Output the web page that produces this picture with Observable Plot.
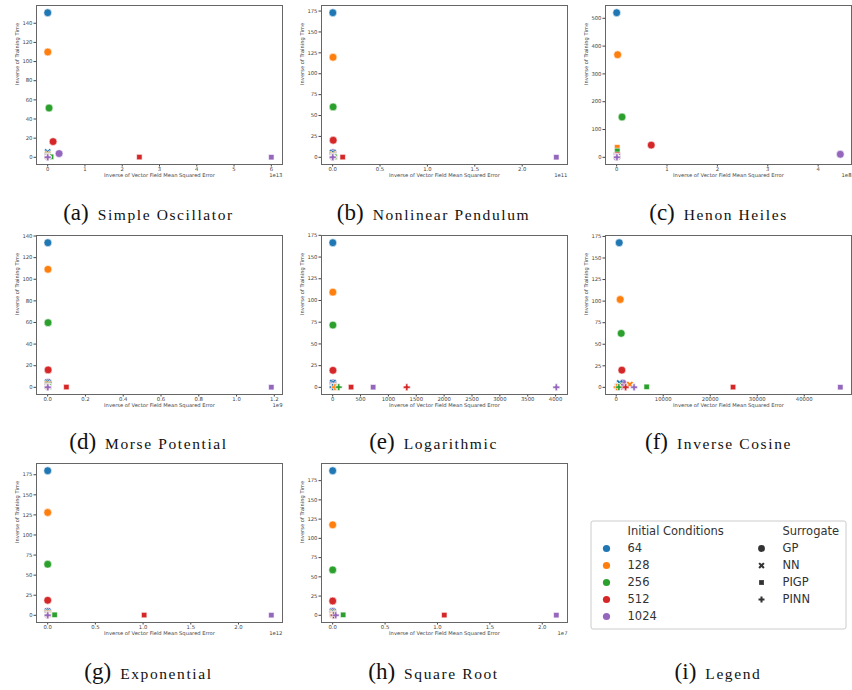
<!DOCTYPE html>
<html>
<head>
<meta charset="utf-8">
<script src="https://cdn.jsdelivr.net/npm/d3@7"></script>
<script src="https://cdn.jsdelivr.net/npm/@observablehq/plot@0.6"></script>
<style>
  body { margin: 0; background: #fff; }
  #fig { position: relative; width: 852px; height: 690px; overflow: hidden; background: #fff; }
  .cell { position: absolute; }
  .cell svg { overflow: visible; max-width: none; }
  .box { position: absolute; box-sizing: border-box; border: 1px solid #666; pointer-events: none; }
  .cap {
    position: absolute; width: 290px; text-align: center; white-space: nowrap;
    font-family: "Liberation Serif", serif; font-size: 15.5px; letter-spacing: 1.6px;
    color: #111; line-height: 26px;
  }
  .cap .tag { font-size: 23px; letter-spacing: 0; margin-right: 9px; }
</style>
</head>
<body>
<div id="fig"></div>
<script>
// Shared categories
const initialConditions = [64, 128, 256, 512, 1024];
const surrogates = ["GP", "NN", "PIGP", "PINN"];
const icColors = ["#1f77b4", "#ff7f0e", "#2ca02c", "#d62728", "#9467bd"];

// In every X / Y table below, rows follow `surrogates` and columns follow `initialConditions`.
const simpleOscillatorX = [
  [1.0e10, 3.0e10, 3.7e11, 1.45e12, 3.06e12],
  [2e9, 3e9, 4e9, 5e9, 6e9],
  [3e10, 5e10, 9e11, 2.46e13, 6.0e13],
  [1e9, 1e9, 2e9, 2e9, 3e9]
];
const simpleOscillatorY = [
  [151, 110, 51.5, 16.4, 3.9],
  [5.5, 3.4, 2.2, 1.3, 0.9],
  [1.2, 0.8, 0.5, 0.25, 0.12],
  [0.6, 0.3, 0.15, 0.08, 0.04]
];

const pendulumX = [
  [2e8, 4e8, 5e8, 6e8, 3e8],
  [1e8, 1.5e8, 2e8, 2.5e8, 3e8],
  [5e8, 8e8, 2e9, 1.06e10, 2.36e11],
  [5e7, 6e7, 7e7, 8e7, 1e8]
];
const pendulumY = [
  [173, 119.7, 60.3, 20.4, 5.5],
  [5.5, 3.4, 2.2, 1.3, 0.9],
  [1.2, 0.8, 0.5, 0.25, 0.12],
  [0.6, 0.3, 0.15, 0.08, 0.04]
];

const henonHeilesX = [
  [1e5, 2e6, 1.07e7, 6.87e7, 4.44e8],
  [2e5, 3e5, 4e5, 5e5, 6e5],
  [1e6, 1.2e6, 1.4e6, 1.6e6, 1.8e6],
  [1e5, 2e5, 3e5, 4e5, 5e5]
];
const henonHeilesY = [
  [520, 369, 145, 44, 11],
  [9, 6, 4, 2.5, 1.5],
  [34, 36, 23, 9, 4],
  [1, 0.7, 0.5, 0.3, 0.2]
];

const morseX = [
  [1e6, 1.5e6, 2e6, 2.5e6, 3e6],
  [5e5, 6e5, 7e5, 8e5, 9e5],
  [2e6, 3e6, 5e6, 9.9e7, 1.184e9],
  [1e5, 2e5, 3e5, 4e5, 5e5]
];
const morseY = [
  [133.8, 109.2, 59.8, 16.1, 4.5],
  [4.7, 3.2, 2.2, 1.3, 0.9],
  [1.0, 0.7, 0.5, 0.25, 0.12],
  [0.5, 0.3, 0.15, 0.08, 0.04]
];

const logarithmicX = [
  [2, 3, 4, 5, 6],
  [3, 30, 20, 10, 8],
  [10, 15, 25, 330, 726],
  [0, 40, 108, 1329, 4013]
];
const logarithmicY = [
  [166.5, 109.6, 71.7, 19.6, 5],
  [5.3, 0.5, 1.5, 1.0, 2.5],
  [1.5, 1.0, 0.6, 0.3, 0.2],
  [0.3, 0.25, 0.2, 0.15, 0.1]
];

const inverseCosineX = [
  [636, 847, 1059, 1200, 1400],
  [760, 2900, 500, 1000, 1600],
  [200, 300, 6480, 24850, 47670],
  [300, 100, 550, 2000, 3800]
];
const inverseCosineY = [
  [167.7, 101.9, 62.6, 20, 5],
  [5, 3.2, 1.5, 1.0, 0.8],
  [1.0, 0.8, 0.6, 0.3, 0.2],
  [0.3, 0.25, 0.2, 0.15, 0.1]
];

const exponentialX = [
  [1e8, 2e8, 3e8, 4e8, 5e8],
  [5e7, 6e7, 7e7, 8e7, 9e7],
  [1e9, 2e9, 7.3e10, 1.011e12, 2.344e12],
  [1e7, 2e7, 3e7, 4e7, 5e7]
];
const exponentialY = [
  [180, 128, 63.6, 18.7, 5],
  [5, 3.2, 2.2, 1.3, 0.9],
  [1.0, 0.8, 0.6, 0.3, 0.2],
  [0.5, 0.3, 0.15, 0.08, 0.04]
];

const squareRootX = [
  [1e3, 2e3, 3e3, 4e3, 5e3],
  [5e3, 6e3, 7e3, 8e3, 9e3],
  [1e4, 2e4, 1.0e6, 1.065e7, 2.134e7],
  [1e4, 3e4, 5e4, 1e5, 2.9e5]
];
const squareRootY = [
  [187.9, 117.6, 59, 18.6, 5],
  [5, 3.2, 2.2, 1.3, 0.9],
  [1.0, 0.8, 0.6, 0.3, 0.2],
  [0.5, 0.3, 0.15, 0.08, 0.04]
];

// Tick labels (x ticks are in units of the axis multiplier 10^exp)
const yTicks140 = [0, 20, 40, 60, 80, 100, 120, 140];
const yTicks175 = [0, 25, 50, 75, 100, 125, 150, 175];
const yTicks500 = [0, 100, 200, 300, 400, 500];
const xTicksUnit6 = [0, 1, 2, 3, 4, 5, 6];
const xTicksUnit4 = [0, 1, 2, 3, 4];
const xTicksHalf2 = [0, 0.5, 1.0, 1.5, 2.0];
const xTicksFifth12 = [0, 0.2, 0.4, 0.6, 0.8, 1.0, 1.2];
const xTicks4000 = [0, 500, 1000, 1500, 2000, 2500, 3000, 3500, 4000];
const xTicks40000 = [0, 10000, 20000, 30000, 40000];

// Marker shapes: filled circle, filled X, square, filled plus
function polygon(ctx, pts) {
  ctx.moveTo(pts[0][0], pts[0][1]);
  for (let i = 1; i < pts.length; i++) ctx.lineTo(pts[i][0], pts[i][1]);
  ctx.closePath();
}
function crossPoints(a, b, angle) {
  const base = [[-b,-a],[b,-a],[b,-b],[a,-b],[a,b],[b,b],[b,a],[-b,a],[-b,b],[-a,b],[-a,-b],[-b,-b]];
  const c = Math.cos(angle), s = Math.sin(angle);
  return base.map(([x, y]) => [x * c - y * s, x * s + y * c]);
}
const circleMarker = { draw(ctx, size) { const r = Math.sqrt(size / Math.PI); ctx.moveTo(r, 0); ctx.arc(0, 0, r, 0, 2 * Math.PI); } };
const xMarker = { draw(ctx, size) { const r = Math.sqrt(size / Math.PI); polygon(ctx, crossPoints(r * 1.0, r * 0.3, Math.PI / 4)); } };
const squareMarker = { draw(ctx, size) { const h = Math.sqrt(size / Math.PI) * 0.7; ctx.rect(-h, -h, 2 * h, 2 * h); } };
const plusMarker = { draw(ctx, size) { const r = Math.sqrt(size / Math.PI); polygon(ctx, crossPoints(r * 0.88, r * 0.3, 0)); } };
const surrogateMarkers = [circleMarker, xMarker, squareMarker, plusMarker];

const panels = [
  { tag: "(a)", title: "Simple Oscillator",  x: simpleOscillatorX, y: simpleOscillatorY, exp: 13, xTicks: xTicksUnit6,  xFmt: "d",  yTicks: yTicks140 },
  { tag: "(b)", title: "Nonlinear Pendulum", x: pendulumX,         y: pendulumY,         exp: 11, xTicks: xTicksHalf2,  xFmt: ".1f", yTicks: yTicks175 },
  { tag: "(c)", title: "Henon Heiles",       x: henonHeilesX,      y: henonHeilesY,      exp: 8,  xTicks: xTicksUnit4,  xFmt: "d",  yTicks: yTicks500 },
  { tag: "(d)", title: "Morse Potential",    x: morseX,            y: morseY,            exp: 9,  xTicks: xTicksFifth12, xFmt: ".1f", yTicks: yTicks140 },
  { tag: "(e)", title: "Logarithmic",        x: logarithmicX,      y: logarithmicY,      exp: 0,  xTicks: xTicks4000,   xFmt: "d",  yTicks: yTicks175 },
  { tag: "(f)", title: "Inverse Cosine",     x: inverseCosineX,    y: inverseCosineY,    exp: 0,  xTicks: xTicks40000,  xFmt: "d",  yTicks: yTicks175 },
  { tag: "(g)", title: "Exponential",        x: exponentialX,      y: exponentialY,      exp: 12, xTicks: xTicksHalf2,  xFmt: ".1f", yTicks: yTicks175 },
  { tag: "(h)", title: "Square Root",        x: squareRootX,       y: squareRootY,       exp: 7,  xTicks: xTicksHalf2,  xFmt: ".1f", yTicks: yTicks175 }
];

// Panel geometry
const panelW = 290, panelH = 182;
const mLeft = 36, mRight = 8, mTop = 5, mBottom = 18;
const colLeft = [0, 285, 569];
const rowTop = [0, 230, 458];
const capCenter = [148.5, 433.5, 718.5];
const capTop = [200, 429, 658.5];

const fig = document.getElementById("fig");

function padded(values) {
  const [lo, hi] = d3.extent(values);
  const m = (hi - lo) * 0.05;
  return [lo - m, hi + m];
}

function scatterPanel(p) {
  const rows = [];
  surrogates.forEach((s, i) => initialConditions.forEach((ic, j) =>
    rows.push({ surrogate: s, ic, x: p.x[i][j], y: p.y[i][j] })));
  const mult = 10 ** p.exp;
  const fmt = d3.format(p.xFmt);
  const marks = [
    Plot.frame({ stroke: "#666", strokeWidth: 1 }),
    Plot.axisX({ ticks: p.xTicks.map(t => t * mult), tickFormat: d => fmt(d / mult), tickSize: 2.5, tickPadding: 0, fontSize: 5.3, label: null }),
    Plot.axisY({ ticks: p.yTicks, tickSize: 2.5, tickPadding: 1.5, fontSize: 5.3, label: null }),
    Plot.dot(rows, { x: "x", y: "y", fill: "ic", symbol: "surrogate", r: 3.9, stroke: "white", strokeWidth: 0.6 }),
    Plot.text(["Inverse of Vector Field Mean Squared Error"], { frameAnchor: "bottom", dy: 12.5, fontSize: 5.2 }),
    Plot.text(["Inverse of Training Time"], { frameAnchor: "left", rotate: -90, dx: -19, fontSize: 5.2 })
  ];
  if (p.exp) marks.push(Plot.text([`1e${p.exp}`], { frameAnchor: "bottom-right", textAnchor: "end", dy: 12.5, fontSize: 5.3 }));
  return Plot.plot({
    width: panelW, height: panelH,
    marginLeft: mLeft, marginRight: mRight, marginTop: mTop, marginBottom: mBottom,
    style: { fontFamily: "DejaVu Sans", fontSize: "5.3px", color: "#444", background: "transparent", overflow: "visible", maxWidth: "none" },
    x: { domain: padded(rows.map(d => d.x)) },
    y: { domain: padded(rows.map(d => d.y)) },
    color: { type: "ordinal", domain: initialConditions, range: icColors },
    symbol: { domain: surrogates, range: surrogateMarkers },
    marks
  });
}

function addCaption(tag, title, cx, top) {
  const cap = document.createElement("div");
  cap.className = "cap";
  cap.style.left = (cx - 145) + "px";
  cap.style.top = top + "px";
  cap.innerHTML = `<span class="tag">${tag}</span>${title}`;
  fig.appendChild(cap);
}

panels.forEach((p, k) => {
  const col = k % 3, row = Math.floor(k / 3);
  const cell = document.createElement("div");
  cell.className = "cell";
  cell.style.left = colLeft[col] + "px";
  cell.style.top = rowTop[row] + "px";
  cell.appendChild(scatterPanel(p));
  // spine box around the plotting area
  const box = document.createElement("div");
  box.className = "box";
  box.style.left = mLeft + "px";
  box.style.top = mTop + "px";
  box.style.width = (panelW - mLeft - mRight + 1) + "px";
  box.style.height = (panelH - mTop - mBottom + 1) + "px";
  cell.appendChild(box);
  fig.appendChild(cell);
  addCaption(p.tag, p.title, capCenter[col], capTop[row]);
});

// Legend panel: two columns (initial conditions, surrogates), one header row
const legendHeaders = [
  { col: "ic", row: 0, label: "Initial Conditions" },
  { col: "surrogate", row: 0, label: "Surrogate" }
];
const icEntries = initialConditions.map((ic, i) => ({ col: "ic", row: i + 1, ic, label: String(ic) }));
const surrogateEntries = surrogates.map((s, i) => ({ col: "surrogate", row: i + 1, surrogate: s, label: s }));

const legend = Plot.plot({
  width: 256, height: 109,
  marginLeft: 0.5, marginRight: 0.5, marginTop: 0.5, marginBottom: 0.5,
  style: { fontFamily: "DejaVu Sans", fontSize: "11.5px", color: "#333", background: "transparent", overflow: "visible", maxWidth: "none" },
  x: { type: "point", domain: ["ic", "surrogate"], range: [16, 171], padding: 0, axis: null },
  y: { type: "point", domain: d3.range(6), range: [9, 98], padding: 0, axis: null },
  color: { type: "ordinal", domain: initialConditions, range: icColors },
  symbol: { domain: surrogates, range: surrogateMarkers },
  marks: [
    Plot.frame({ stroke: "#ccc", strokeWidth: 1, rx: 2 }),
    Plot.text(legendHeaders, { x: "col", y: "row", text: "label", textAnchor: "start", dx: 21 }),
    Plot.dot(icEntries, { x: "col", y: "row", fill: "ic", r: 3.6 }),
    Plot.text(icEntries, { x: "col", y: "row", text: "label", textAnchor: "start", dx: 21 }),
    Plot.dot(surrogateEntries, { x: "col", y: "row", symbol: "surrogate", fill: "#333", r: 3.4 }),
    Plot.text(surrogateEntries, { x: "col", y: "row", text: "label", textAnchor: "start", dx: 21 })
  ]
});
const legendCell = document.createElement("div");
legendCell.className = "cell";
legendCell.style.left = "589.5px";
legendCell.style.top = "519.5px";
legendCell.appendChild(legend);
fig.appendChild(legendCell);
addCaption("(i)", "Legend", 718, 659);
</script>
</body>
</html>
